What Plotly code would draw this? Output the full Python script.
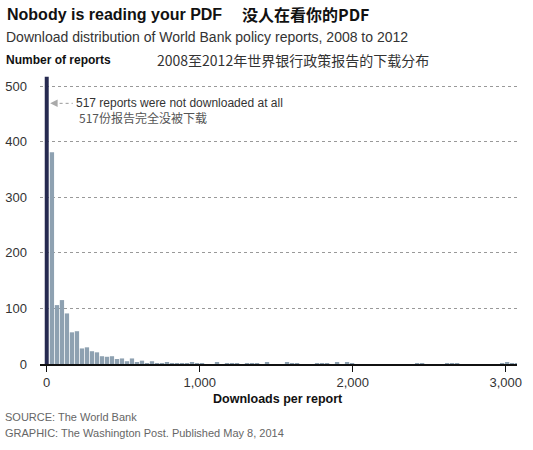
import plotly.graph_objects as go

# reports with zero downloads
zero_count = 517

# histogram of reports with at least one download (bins ~33 downloads wide)
bin_start = 34
bin_width = 32.7
bin_counts = [381, 106, 115, 91, 57, 59, 28, 30, 23, 21,
              14, 13, 14, 9, 10, 5, 10, 3, 6, 1,
              5, 1, 1, 3, 1, 1, 1, 1, 2, 1,
              1, 0, 0, 2, 0, 1, 1, 1, 0, 1,
              1, 1, 0, 2, 0, 0, 0, 2, 1, 1,
              0, 0, 0, 1, 1, 1, 0, 2, 0, 2,
              1, 0, 0, 0, 0, 0, 0, 0, 0, 0,
              0, 0, 0, 1, 1, 0, 0, 0, 0, 1,
              1, 1, 0, 0, 0, 0, 0, 0, 0, 0,
              1, 2, 1, 1]

y_ticks = [0, 100, 200, 300, 400, 500]
x_ticks = [0, 1000, 2000, 3000]
x_labels = ["0", "1,000", "2,000", "3,000"]

font = "Liberation Sans, Arial, sans-serif"
cjk = "Noto Sans CJK SC"

# plot area in pixels: left 40, right 517, top 75, bottom 364.5
L, R, T, B = 40, 517, 75, 364.5

fig = go.Figure()
fig.add_trace(go.Bar(x=[0], y=[zero_count], width=26,
                     marker=dict(color="#262a50", line_width=0),
                     hoverinfo="skip"))
fig.add_trace(go.Bar(x0=bin_start, dx=bin_width, y=bin_counts, width=28,
                     marker=dict(color="#8ea1b1", line_width=0),
                     hoverinfo="skip"))

# annotation pointing at the zero bar
fig.add_shape(type="line", x0=45, x1=170, y0=469, y1=469,
              line=dict(color="#999999", width=1, dash="dot"))
fig.add_annotation(x=22, y=469, ax=50, ay=469, axref="x", ayref="y",
                   showarrow=True, arrowhead=2, arrowsize=1.5, arrowwidth=1,
                   arrowcolor="#aaaaaa", text="")
fig.add_annotation(x=180, y=469, xanchor="left", yanchor="middle", showarrow=False,
                   text="517 reports were not downloaded at all",
                   font=dict(family=font, size=12, color="#333333"))
fig.add_annotation(x=200, y=444, xanchor="left", yanchor="middle", showarrow=False,
                   text="517份报告完全没被下载",
                   font=dict(family=cjk, size=12, color="#555555"))

# header and footer texts (pixel positions)
texts = [
    (5, 14, "<b>Nobody is reading your PDF</b>", font, 16, "#111111"),
    (240, 14, "<b>没人在看你的PDF</b>", cjk, 16, "#111111"),
    (4, 37, "Download distribution of World Bank policy reports, 2008 to 2012", font, 14, "#333333"),
    (4, 60, "<b>Number of reports</b>", font, 12, "#111111"),
    (155, 60, "2008至2012年世界银行政策报告的下载分布", cjk, 14, "#333333"),
    (3, 418, "SOURCE: The World Bank", font, 11, "#666666"),
    (3, 434, "GRAPHIC: The Washington Post. Published May 8, 2014", font, 11, "#666666"),
]
for px, py, t, fam, size, col in texts:
    fig.add_annotation(xref="paper", yref="paper",
                       x=(px - L) / (R - L), y=(B - py) / (B - T),
                       xanchor="left", yanchor="middle", showarrow=False,
                       text=t, font=dict(family=fam, size=size, color=col))
fig.add_annotation(xref="paper", yref="paper", x=(278 - L) / (R - L),
                   y=(B - 400) / (B - T), xanchor="center", yanchor="middle",
                   showarrow=False, text="<b>Downloads per report</b>",
                   font=dict(family=font, size=12.5, color="#111111"))

fig.update_layout(
    width=533, height=450,
    margin=dict(l=L, r=533 - R, t=T, b=450 - B),
    paper_bgcolor="white", plot_bgcolor="white",
    showlegend=False, barmode="overlay",
    font=dict(family=font, size=13, color="#333333"),
    xaxis=dict(range=[-44, 3074], tickvals=x_ticks, ticktext=x_labels,
               showgrid=False, zeroline=False, showline=True, automargin=False,
               linecolor="#111111", linewidth=1.5,
               ticks="outside", ticklen=6, tickcolor="#111111", tickwidth=1,
               tickfont=dict(size=13, color="#333333")),
    yaxis=dict(range=[0, 520], tickvals=y_ticks, showgrid=True, automargin=False,
               gridcolor="#999999", griddash="dot", gridwidth=1,
               zeroline=False, showline=False, ticks="",
               ticklabelstandoff=12,
               tickfont=dict(size=13, color="#333333")),
)

# drop the default page margin so the figure fills the window
fig.write_html("out.html", config={"displayModeBar": False},
               post_script="document.body.style.margin='0';")
